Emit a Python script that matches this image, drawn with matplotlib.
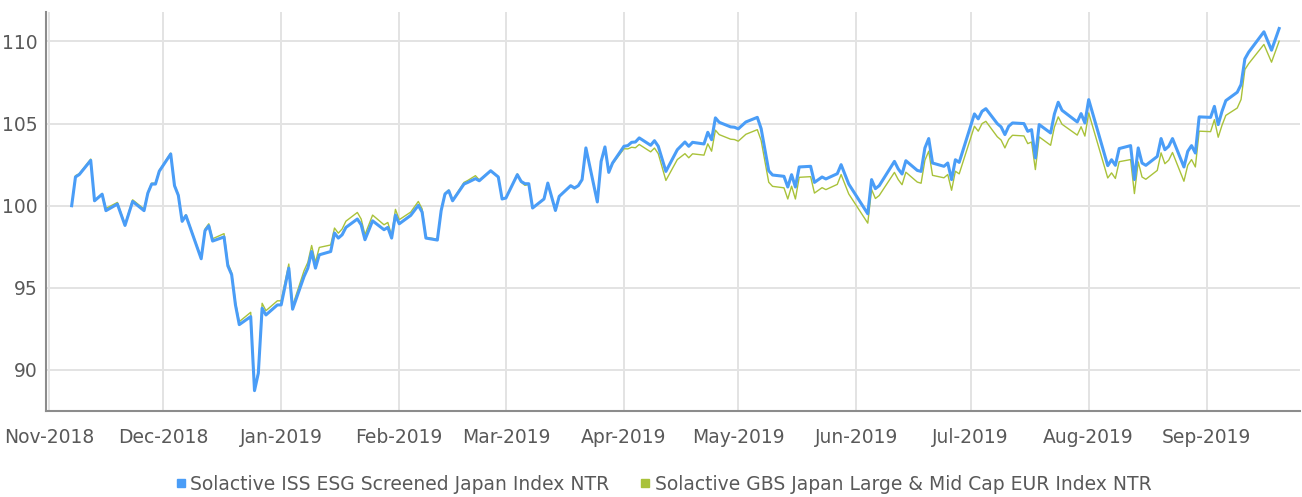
import matplotlib
matplotlib.use("Agg")
import matplotlib.pyplot as plt
import matplotlib.dates as mdates
from matplotlib import font_manager
from matplotlib.lines import Line2D
import pandas as pd

# Index levels (rebased to 100)
dates = [
    "2018-11-07", "2018-11-08", "2018-11-09", "2018-11-12", "2018-11-13", "2018-11-15", "2018-11-16",
    "2018-11-19", "2018-11-21", "2018-11-23", "2018-11-26", "2018-11-27", "2018-11-28", "2018-11-29",
    "2018-11-30", "2018-12-03", "2018-12-04", "2018-12-05", "2018-12-06", "2018-12-07", "2018-12-11",
    "2018-12-12", "2018-12-13", "2018-12-14", "2018-12-17", "2018-12-18", "2018-12-19", "2018-12-20",
    "2018-12-21", "2018-12-24", "2018-12-25", "2018-12-26", "2018-12-27", "2018-12-28", "2018-12-31",
    "2019-01-01", "2019-01-03", "2019-01-04", "2019-01-07", "2019-01-08", "2019-01-09", "2019-01-10",
    "2019-01-11", "2019-01-14", "2019-01-15", "2019-01-16", "2019-01-17", "2019-01-18", "2019-01-21",
    "2019-01-22", "2019-01-23", "2019-01-25", "2019-01-28", "2019-01-29", "2019-01-30", "2019-01-31",
    "2019-02-01", "2019-02-04", "2019-02-06", "2019-02-07", "2019-02-08", "2019-02-11", "2019-02-12",
    "2019-02-13", "2019-02-14", "2019-02-15", "2019-02-18", "2019-02-19", "2019-02-21", "2019-02-22",
    "2019-02-25", "2019-02-27", "2019-02-28", "2019-03-01", "2019-03-04", "2019-03-05", "2019-03-06",
    "2019-03-07", "2019-03-08", "2019-03-11", "2019-03-12", "2019-03-14", "2019-03-15", "2019-03-18",
    "2019-03-19", "2019-03-20", "2019-03-21", "2019-03-22", "2019-03-25", "2019-03-26", "2019-03-27",
    "2019-03-28", "2019-03-29", "2019-04-01", "2019-04-02", "2019-04-03", "2019-04-04", "2019-04-05",
    "2019-04-08", "2019-04-09", "2019-04-10", "2019-04-12", "2019-04-15", "2019-04-17", "2019-04-18",
    "2019-04-19", "2019-04-22", "2019-04-23", "2019-04-24", "2019-04-25", "2019-04-26", "2019-04-29",
    "2019-04-30", "2019-05-01", "2019-05-03", "2019-05-06", "2019-05-07", "2019-05-09", "2019-05-10",
    "2019-05-13", "2019-05-14", "2019-05-15", "2019-05-16", "2019-05-17", "2019-05-20", "2019-05-21",
    "2019-05-23", "2019-05-24", "2019-05-27", "2019-05-28", "2019-05-30", "2019-06-04", "2019-06-05",
    "2019-06-06", "2019-06-07", "2019-06-11", "2019-06-12", "2019-06-13", "2019-06-14", "2019-06-17",
    "2019-06-18", "2019-06-19", "2019-06-20", "2019-06-21", "2019-06-24", "2019-06-25", "2019-06-26",
    "2019-06-27", "2019-06-28", "2019-07-02", "2019-07-03", "2019-07-04", "2019-07-05", "2019-07-08",
    "2019-07-09", "2019-07-10", "2019-07-11", "2019-07-12", "2019-07-15", "2019-07-16", "2019-07-17",
    "2019-07-18", "2019-07-19", "2019-07-22", "2019-07-23", "2019-07-24", "2019-07-25", "2019-07-29",
    "2019-07-30", "2019-07-31", "2019-08-01", "2019-08-06", "2019-08-07", "2019-08-08", "2019-08-09",
    "2019-08-12", "2019-08-13", "2019-08-14", "2019-08-15", "2019-08-16", "2019-08-19", "2019-08-20",
    "2019-08-21", "2019-08-22", "2019-08-23", "2019-08-26", "2019-08-27", "2019-08-28", "2019-08-29",
    "2019-08-30", "2019-09-02", "2019-09-03", "2019-09-04", "2019-09-05", "2019-09-06", "2019-09-09",
    "2019-09-10", "2019-09-11", "2019-09-12", "2019-09-16", "2019-09-18", "2019-09-20",
]

esg = [
    100.00, 101.75, 101.90, 102.76, 100.30, 100.70, 99.70,
    100.10, 98.80, 100.26, 99.70, 100.77, 101.32, 101.32,
    102.10, 103.15, 101.22, 100.63, 99.05, 99.40, 96.77,
    98.48, 98.78, 97.85, 98.10, 96.34, 95.80, 93.96,
    92.76, 93.25, 88.74, 89.80, 93.76, 93.35, 93.96,
    93.96, 96.20, 93.70, 95.69, 96.20, 97.21, 96.20,
    97.01, 97.21, 98.34, 98.03, 98.23, 98.68, 99.19,
    98.84, 97.93, 99.08, 98.54, 98.68, 98.03, 99.43,
    98.90, 99.41, 100.02, 99.61, 98.03, 97.91, 99.70,
    100.71, 100.91, 100.30, 101.32, 101.42, 101.65, 101.52,
    102.13, 101.75, 100.41, 100.47, 101.89, 101.48, 101.34,
    101.34, 99.86, 100.41, 101.38, 99.71, 100.57, 101.22,
    101.08, 101.22, 101.59, 103.52, 100.23, 102.70, 103.58,
    102.03, 102.60, 103.62, 103.66, 103.86, 103.88, 104.13,
    103.68, 103.96, 103.62, 102.09, 103.41, 103.88, 103.62,
    103.86, 103.76, 104.47, 104.02, 105.35, 105.08, 104.80,
    104.78, 104.68, 105.10, 105.38, 104.70, 102.13, 101.87,
    101.79, 101.14, 101.89, 101.14, 102.36, 102.40, 101.42,
    101.75, 101.63, 101.95, 102.50, 101.32, 99.51, 101.59,
    101.04, 101.22, 102.70, 102.24, 101.93, 102.74, 102.15,
    102.09, 103.52, 104.09, 102.60, 102.40, 102.60, 101.59,
    102.80, 102.64, 105.59, 105.29, 105.75, 105.91, 105.00,
    104.80, 104.33, 104.84, 105.04, 105.00, 104.53, 104.63,
    102.91, 104.94, 104.43, 105.59, 106.30, 105.81, 105.10,
    105.61, 105.04, 106.46, 102.44, 102.80, 102.46, 103.48,
    103.66, 101.59, 103.52, 102.60, 102.46, 103.00, 104.09,
    103.41, 103.62, 104.09, 102.36, 103.31, 103.66, 103.21,
    105.41, 105.38, 106.05, 104.94, 105.75, 106.40, 106.91,
    107.38, 108.94, 109.35, 110.59, 109.47, 110.79,
]

gbs = [
    100.00, 101.83, 101.95, 102.84, 100.30, 100.75, 99.84,
    100.20, 98.85, 100.36, 99.80, 100.82, 101.37, 101.37,
    102.15, 103.20, 101.27, 100.68, 99.10, 99.45, 96.82,
    98.58, 98.90, 97.99, 98.30, 96.50, 95.92, 94.11,
    92.94, 93.51, 88.79, 89.90, 94.06, 93.61, 94.21,
    94.21, 96.45, 93.90, 96.04, 96.55, 97.58, 96.55,
    97.46, 97.61, 98.64, 98.33, 98.58, 99.06, 99.59,
    99.19, 98.23, 99.43, 98.84, 98.98, 98.18, 99.78,
    99.15, 99.61, 100.26, 99.81, 98.08, 97.96, 99.75,
    100.76, 100.96, 100.35, 101.42, 101.54, 101.83, 101.57,
    102.13, 101.75, 100.41, 100.47, 101.94, 101.43, 101.24,
    101.29, 99.86, 100.41, 101.38, 99.71, 100.57, 101.22,
    101.03, 101.22, 101.59, 103.52, 100.23, 102.70, 103.58,
    102.06, 102.55, 103.47, 103.46, 103.56, 103.53, 103.73,
    103.28, 103.51, 103.17, 101.54, 102.81, 103.17, 102.92,
    103.16, 103.08, 103.77, 103.32, 104.60, 104.33, 104.05,
    104.03, 103.93, 104.35, 104.63, 103.98, 101.43, 101.18,
    101.09, 100.41, 101.19, 100.41, 101.73, 101.77, 100.77,
    101.10, 100.98, 101.30, 101.90, 100.72, 98.94, 100.99,
    100.44, 100.62, 102.03, 101.59, 101.28, 102.04, 101.44,
    101.37, 102.77, 103.32, 101.85, 101.70, 101.90, 100.94,
    102.10, 101.94, 104.84, 104.54, 105.00, 105.14, 104.20,
    104.00, 103.52, 104.04, 104.29, 104.25, 103.78, 103.88,
    102.20, 104.19, 103.68, 104.79, 105.41, 104.96, 104.30,
    104.81, 104.24, 105.65, 101.69, 102.00, 101.66, 102.68,
    102.81, 100.74, 102.67, 101.75, 101.61, 102.15, 103.22,
    102.56, 102.77, 103.24, 101.49, 102.46, 102.81, 102.36,
    104.54, 104.51, 105.24, 104.17, 104.90, 105.50, 105.95,
    106.47, 108.29, 108.65, 109.82, 108.74, 110.02,
]

labels = ["Solactive ISS ESG Screened Japan Index NTR",
          "Solactive GBS Japan Large & Mid Cap EUR Index NTR"]
blue = "#4A9DF7"
green = "#A9C23A"
text_grey = "#595959"

# narrow font if we have one
installed = {f.name for f in font_manager.fontManager.ttflist}
if "Liberation Sans Narrow" in installed:
    plt.rcParams["font.family"] = ["Liberation Sans Narrow", "DejaVu Sans"]
    fsize = 17
else:
    plt.rcParams["font.family"] = ["DejaVu Sans"]
    fsize = 13.5

x = pd.to_datetime(dates)

fig = plt.figure(figsize=(13.02, 4.97), dpi=100)
ax = fig.add_axes([0.0353, 0.173, 0.963, 0.803])

ax.plot(x, gbs, color=green, linewidth=1.0, zorder=3)
ax.plot(x, esg, color=blue, linewidth=2.2, zorder=4)

ax.set_xlim(pd.Timestamp("2018-11-01") - pd.Timedelta(hours=18), pd.Timestamp("2019-09-25 10:00"))
ax.set_ylim(87.5, 111.8)
ax.set_yticks([90, 95, 100, 105, 110])
ax.xaxis.set_major_locator(mdates.MonthLocator())
ax.xaxis.set_major_formatter(mdates.DateFormatter("%b-%Y"))

ax.grid(True, color="#E3E3E3", linewidth=1.4, zorder=0)
ax.set_axisbelow(True)
for side in ["top", "right"]:
    ax.spines[side].set_visible(False)
for side in ["left", "bottom"]:
    ax.spines[side].set_color("#8C8C8C")
    ax.spines[side].set_linewidth(1.5)
ax.tick_params(axis="both", length=0, labelsize=fsize, labelcolor=text_grey)
ax.tick_params(axis="x", pad=12)
ax.tick_params(axis="y", pad=6)

handles = [Line2D([], [], marker="s", linestyle="none", markersize=6, color=c) for c in (blue, green)]
fig.legend(handles, labels, loc="lower center", bbox_to_anchor=(0.5096, -0.027), ncol=2,
           frameon=False, fontsize=fsize, labelcolor=text_grey, handlelength=0.6,
           handletextpad=0.2, columnspacing=1.6)

fig.savefig("out.png", dpi=100)
plt.close(fig)
